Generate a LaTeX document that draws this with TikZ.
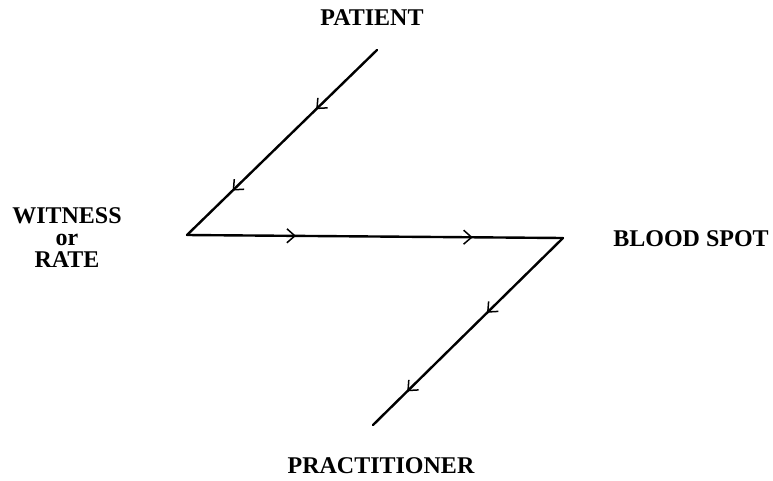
\documentclass[tikz,border=0pt]{standalone}
\usepackage{fontspec}
\setmainfont{Liberation Serif}
\usetikzlibrary{arrows.meta,decorations.markings,positioning}

\begin{document}
\begin{tikzpicture}[
    x=1pt, y=-1pt,
    party/.style={font=\fontsize{24}{22}\selectfont\bfseries, align=center, inner sep=0pt},
    barb/.tip={Straight Barb[length=8pt,width=14pt,line width=1.5pt]},
    flow/.style 2 args={line width=2.4pt, line cap=round, line join=round,
        postaction={decorate, decoration={markings,
            mark=at position #1 with {\arrow{barb}},
            mark=at position #2 with {\arrow{barb}}}}}
]
    \useasboundingbox (0,0) rectangle (773,480);

    % Corners of the path
    \coordinate (top) at (377,50);
    \coordinate (left) at (187,235);
    \coordinate (right) at (563,238);
    \coordinate (bottom) at (373,425);

    % Labels
    \node[party] (patient) at (372,18) {PATIENT};
    \node[party] (witness) at (67,238) {WITNESS\\or\\RATE};
    \node[party] (bloodspot) at (691,239) {BLOOD SPOT};
    \node[party] (practitioner) at (381,466) {PRACTITIONER};

    % Flow lines
    \draw[flow={0.32}{0.76}] (top) -- (left);
    \draw[flow={0.29}{0.76}] (left) -- (right);
    \draw[flow={0.4}{0.82}] (right) -- (bottom);
\end{tikzpicture}
\end{document}
